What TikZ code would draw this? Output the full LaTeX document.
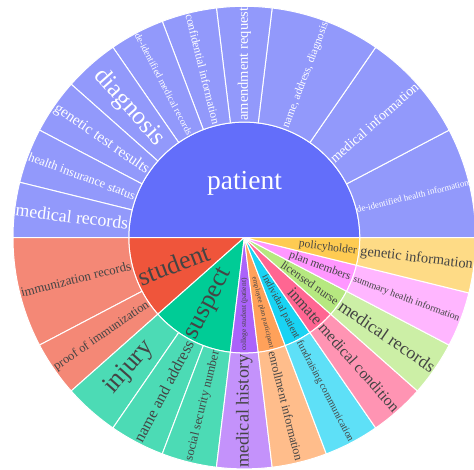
\documentclass[tikz,border=0pt]{standalone}
\usepackage{fontspec}
\setmainfont{Liberation Serif}
\definecolor{cPat}{HTML}{636EFA}
\definecolor{cStu}{HTML}{EF553B}
\definecolor{cSus}{HTML}{00CC96}
\definecolor{cCol}{HTML}{AB63FA}
\definecolor{cEmp}{HTML}{FFA15A}
\definecolor{cInd}{HTML}{19D3F3}
\definecolor{cInm}{HTML}{FF6692}
\definecolor{cLic}{HTML}{B6E880}
\definecolor{cPla}{HTML}{FF97FF}
\definecolor{cPol}{HTML}{FECB52}
\definecolor{txt}{HTML}{444444}
\def\U{13.846154}
\def\RI{115.5}
\def\RO{231.3}
\tikzset{seg/.style={draw=white, line width=1pt, line join=round}}
\newcommand\wedgeseg[3]{%
  \filldraw[fill=#1, seg] (0,0) -- ({#2*\U}:\RI) arc[start angle={#2*\U}, end angle={#3*\U}, radius=\RI] -- cycle;}
\newcommand\ringseg[3]{%
  \filldraw[fill=#1!70!white, seg] ({#2*\U}:\RI) arc[start angle={#2*\U}, end angle={#3*\U}, radius=\RI] -- ({#3*\U}:\RO) arc[start angle={#3*\U}, end angle={#2*\U}, radius=\RO] -- cycle;}
\newcommand\olab[5]{%
  \pgfmathsetmacro\mang{#2*\U}%
  \pgfmathsetmacro\mrot{ifthenelse(and(\mang>90.01,\mang<270.01),\mang-180,\mang)}%
  \node[text=#4, rotate=\mrot, inner sep=0pt, font=\fontsize{#3}{#3}\selectfont] (#1) at (\mang:173.5) {#5};}
\newcommand\ilab[4]{%
  \pgfmathsetmacro\mang{#2*\U}%
  \pgfmathtruncatemacro\mflip{and(\mang>90.01,\mang<270.01)}%
  \ifnum\mflip=1 \def\manc{west}\pgfmathsetmacro\mrot{\mang-180}\else\def\manc{east}\pgfmathsetmacro\mrot{\mang}\fi
  \node[text=txt, rotate=\mrot, anchor=\manc, inner sep=0pt, font=\fontsize{#3}{#3}\selectfont] (#1) at (\mang:113.5) {#4};}
\begin{document}
\begin{tikzpicture}[x=1pt,y=1pt]
\useasboundingbox (-244.3,-232.4) rectangle (229.7,237.6);
\clip (-244.3,-232.4) rectangle (229.7,237.6);
% inner ring
\wedgeseg{cPat}{0}{13}
\wedgeseg{cStu}{13}{16}
\wedgeseg{cSus}{16}{19}
\wedgeseg{cCol}{19}{20}
\wedgeseg{cEmp}{20}{21}
\wedgeseg{cInd}{21}{22}
\wedgeseg{cInm}{22}{23}
\wedgeseg{cLic}{23}{24}
\wedgeseg{cPla}{24}{25}
\wedgeseg{cPol}{25}{26}
% outer ring
\ringseg{cPat}{0}{2}
\ringseg{cPat}{2}{4}
\ringseg{cPat}{4}{6}
\ringseg{cPat}{6}{7}
\ringseg{cPat}{7}{8}
\ringseg{cPat}{8}{9}
\ringseg{cPat}{9}{10}
\ringseg{cPat}{10}{11}
\ringseg{cPat}{11}{12}
\ringseg{cPat}{12}{13}
\ringseg{cStu}{13}{15}
\ringseg{cStu}{15}{16}
\ringseg{cSus}{16}{17}
\ringseg{cSus}{17}{18}
\ringseg{cSus}{18}{19}
\ringseg{cCol}{19}{20}
\ringseg{cEmp}{20}{21}
\ringseg{cInd}{21}{22}
\ringseg{cInm}{22}{23}
\ringseg{cLic}{23}{24}
\ringseg{cPla}{24}{25}
\ringseg{cPol}{25}{26}
% inner labels
\node[text=white, inner sep=0pt, font=\fontsize{27.5}{27.5}\selectfont] (patient) at (0.2,54) {patient};
\ilab{student}{14.5}{26}{student}
\ilab{suspect}{17.5}{26}{suspect}
\ilab{i1}{19.5}{7.5}{college student (patient)}
\ilab{i2}{20.5}{7}{employee plan participant}
\ilab{i3}{21.5}{10}{individual patient}
\ilab{i4}{22.5}{16}{inmate}
\ilab{i5}{23.5}{11.8}{licensed nurse}
\ilab{i6}{24.5}{11.5}{plan members}
\ilab{i7}{25.5}{11.5}{policyholder}
% outer labels
\olab{o1}{1}{9}{white}{de-identified health information}
\olab{o2}{3}{13.9}{white}{medical information}
\olab{o3}{5}{11.3}{white}{name, address, diagnosis}
\olab{o4}{6.5}{14.5}{white}{amendment request}
\olab{o5}{7.5}{11.6}{white}{confidential information}
\olab{o6}{8.5}{9.7}{white}{de-identified medical records}
\olab{o7}{9.5}{25}{white}{diagnosis}
\olab{o8}{10.5}{15.2}{white}{genetic test results}
\olab{o9}{11.5}{12.5}{white}{health insurance status}
\olab{o10}{12.5}{17.8}{white}{medical records}
\olab{o11}{14}{12.9}{txt}{immunization records}
\olab{o12}{15.5}{12.5}{txt}{proof of immunization}
\olab{o13}{16.5}{26}{txt}{injury}
\olab{o14}{17.5}{15.8}{txt}{name and address}
\olab{o15}{18.5}{12.5}{txt}{social security number}
\olab{o16}{19.5}{18.2}{txt}{medical history}
\olab{o17}{20.5}{12.1}{txt}{enrollment information}
\olab{o18}{21.5}{10.2}{txt}{fundraising communication}
\olab{o19}{22.5}{15.7}{txt}{medical condition}
\olab{o20}{23.5}{17.8}{txt}{medical records}
\olab{o21}{24.5}{9.9}{txt}{summary health information}
\olab{o22}{25.5}{14.4}{txt}{genetic information}
\end{tikzpicture}
\end{document}
